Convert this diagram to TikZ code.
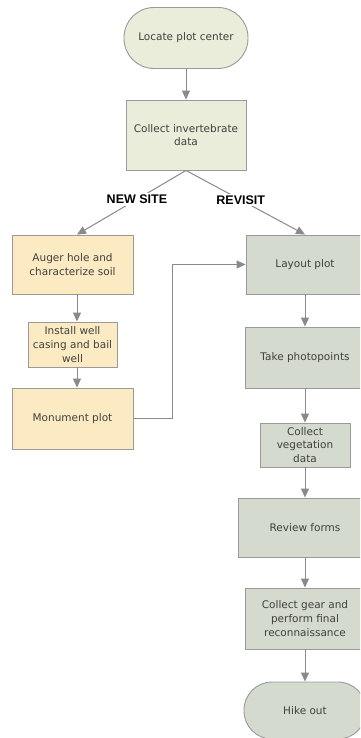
\documentclass[tikz,border=0pt]{standalone}
\usepackage{fontspec}
\setmainfont{DejaVu Sans}
\newfontfamily\labelfont{Liberation Sans}
\usetikzlibrary{arrows.meta}
\definecolor{greenfill}{HTML}{E9EDDA}
\definecolor{creamfill}{HTML}{FCEBC2}
\definecolor{grayfill}{HTML}{D4DACD}
\definecolor{edgecol}{HTML}{9A9A9A}
\definecolor{linecol}{HTML}{8A8A8A}
\definecolor{textcol}{HTML}{404040}
\tikzset{
  box/.style={draw=edgecol, line width=0.9pt, align=center, text=textcol,
    font=\fontsize{10.5}{13.8}\selectfont, inner sep=0pt},
  greenbox/.style={box, fill=greenfill},
  creambox/.style={box, fill=creamfill},
  graybox/.style={box, fill=grayfill},
  stadium/.style={rounded corners=#1},
  conn/.style={draw=linecol, line width=1pt, -{Triangle[length=9pt,width=8pt]}, color=linecol},
  branchlabel/.style={fill=white, text=black, font=\labelfont\bfseries\fontsize{12.5}{14}\selectfont, inner sep=2pt}
}
\begin{document}
\begin{tikzpicture}[x=1pt,y=-1pt]
\useasboundingbox (0,0) rectangle (360,738);
\clip (0,0) rectangle (360,738);
\fill[white] (0,0) rectangle (360,738);
% top
\node[greenbox, stadium=30pt, minimum width=124pt, minimum height=61pt] (loc) at (186,38) {Locate plot center};
\node[greenbox, minimum width=120pt, minimum height=70pt] (inv) at (186,135) {Collect invertebrate\\data};
% left column
\node[creambox, minimum width=121pt, minimum height=59pt] (auger) at (72.5,264.5) {Auger hole and\\characterize soil};
\node[creambox, minimum width=89pt, minimum height=45pt] (install) at (72.5,344.5) {Install well\\casing and bail\\well};
\node[creambox, minimum width=121pt, minimum height=61pt] (mon) at (72.5,418.5) {Monument plot};
% right column
\node[graybox, minimum width=118pt, minimum height=59pt] (lay) at (305,264.5) {Layout plot};
\node[graybox, minimum width=120pt, minimum height=61pt] (photo) at (305,357.5) {Take photopoints};
\node[graybox, minimum width=90pt, minimum height=44pt] (veg) at (305,445) {Collect\\vegetation\\data};
\node[graybox, minimum width=134pt, minimum height=59pt] (rev) at (305,527.5) {Review forms};
\node[graybox, minimum width=120pt, minimum height=61pt] (gear) at (305,618.5) {Collect gear and\\perform final\\reconnaissance};
\node[graybox, stadium=28pt, minimum width=122pt, minimum height=57pt] (hike) at (305,710.5) {Hike out};
% connectors
\coordinate (augertop) at ([xshift=4.5pt]auger.north);
\draw[conn] (loc) -- (inv);
\draw[conn] (inv.south) -- node[branchlabel, pos=0.45] (newsite) {NEW SITE} (augertop);
\draw[conn] (inv.south) -- node[branchlabel, pos=0.46] (revisit) {REVISIT} (lay.north);
\draw[conn] (auger.south -| augertop) -- (install.north -| augertop);
\draw[conn] (install.south -| augertop) -- (mon.north -| augertop);
\draw[conn] (mon.east) -- ++(39,0) |- (lay.west);
\draw[conn] (lay) -- (photo);
\draw[conn] (photo) -- (veg);
\draw[conn] (veg) -- (rev);
\draw[conn] (rev) -- (gear);
\draw[conn] (gear) -- (hike);
\end{tikzpicture}
\end{document}
